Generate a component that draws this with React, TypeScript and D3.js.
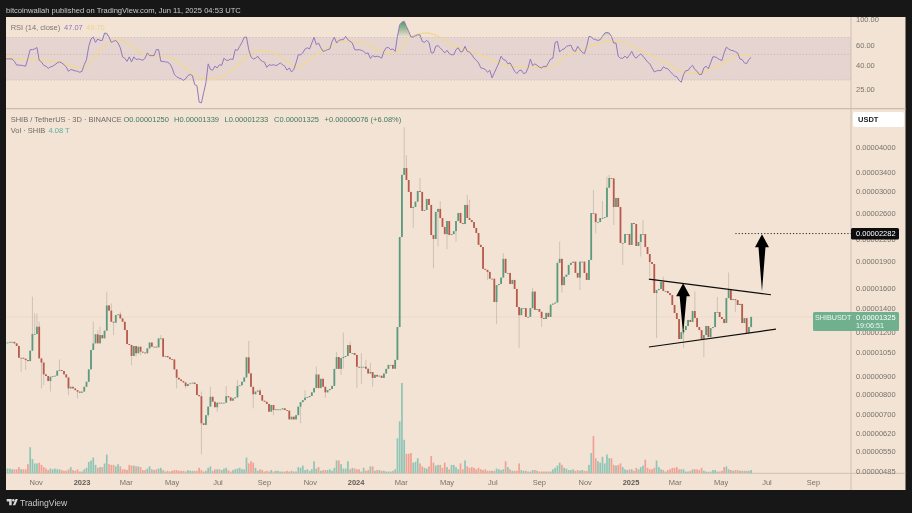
import React from 'react'
import * as d3 from 'd3'

// prices are in units of 0.00000001 USDT, volume in trillions of SHIB
const closes = [
  1121, 1121, 1126, 1126, 1115, 1096, 1015, 1015, 1009, 1000, 993, 1063, 1185, 1185, 1243, 1011, 984, 911, 901, 872,
  897, 901, 903, 933, 937, 931, 911, 893, 831, 840, 831, 822, 814, 808, 814, 840, 868, 941, 1068, 1115,
  1183, 1115, 1177, 1152, 1211, 1428, 1380, 1284, 1276, 1341, 1347, 1312, 1284, 1216, 1110, 1103, 1027, 1096, 1045, 1091,
  1056, 1050, 1045, 1079, 1121, 1091, 1091, 1087, 1152, 1152, 1022, 1027, 1018, 1006, 1004, 941, 891, 881, 872, 864,
  844, 855, 859, 863, 855, 796, 790, 662, 655, 698, 738, 787, 762, 735, 757, 754, 757, 757, 790, 784,
  767, 779, 784, 844, 848, 868, 893, 1018, 917, 840, 800, 814, 820, 796, 767, 762, 751, 714, 746, 722,
  725, 725, 725, 730, 722, 719, 679, 691, 679, 698, 738,
  760, 770, 783, 785, 791, 810, 833, 910, 833, 885, 840, 810, 822, 828, 845, 944, 1020, 944, 1013, 1020,
  1027, 1103, 1047, 1047, 1034, 957, 953, 957, 957, 945, 916, 925, 890, 908, 898, 903, 890, 916, 944, 969,
  969, 945, 1001, 1240,
  2231, 3346, 3500, 3236, 2994, 2696, 2714, 2810, 3012, 2994, 2645, 2661, 2860, 2750, 2260, 2203, 2628, 2680, 2525, 2383,
  2273, 2477, 2260, 2273, 2318, 2477, 2610, 2444, 2428, 2750, 2525, 2493, 2460, 2367, 2290, 2120, 2090, 1812, 1800, 1777,
  1700, 1700, 1460, 1630, 1642, 1712, 1935, 1765, 1765, 1642, 1686, 1590, 1413, 1340, 1403, 1403, 1325, 1325, 1403, 1563,
  1387, 1395, 1370, 1315, 1307, 1360, 1325, 1435, 1445, 1455, 1885, 1935, 1630, 1722, 1745, 1860, 1885, 1900, 1765, 1712,
  1900, 1900, 1765, 1686, 1921, 2609, 2600, 2460, 2460, 2525, 2525, 2540, 3077, 3278, 3270, 2713, 2878, 2713, 2146, 2146,
  2275, 2275, 2118, 2444, 2429, 2104, 2160, 2275, 2275, 2090, 1997, 1895, 1871, 1548,
  1579, 1590, 1664, 1569, 1569, 1548, 1528, 1432, 1359, 1307, 1147, 1200, 1216, 1249, 1299, 1282, 1377, 1315, 1240, 1216,
  1147, 1177, 1249, 1162, 1232, 1240, 1368, 1368, 1324, 1307, 1273, 1498, 1579, 1479, 1488, 1479, 1432, 1442, 1273, 1315,
  1192, 1240, 1325,
]

// only the wicks that stand clear of the bodies: [candle, price]
const highWicks = [
  [12, 1512], [13, 1356], [14, 1356], [15, 1284], [24, 1004], [39, 1284], [41, 1216], [42, 1243], [45, 1562], [47, 1447],
  [51, 1371], [69, 1177], [87, 814], [91, 840], [98, 844], [103, 878], [108, 1133], [113, 831], [133, 822], [138, 959],
  [147, 1054], [150, 1197], [153, 1128], [158, 1047], [160, 1001], [162, 982], [175, 1461], [177, 4560], [178, 3807],
  [184, 3280], [193, 2820], [205, 2938], [206, 2842], [221, 2010], [234, 1600], [246, 2165], [261, 3032], [265, 2820],
  [267, 3307], [268, 3346], [283, 2493], [292, 1723], [306, 1565], [316, 1510], [321, 1770],
]
const lowWicks = [
  [7, 927], [9, 937], [16, 831], [17, 850], [20, 814], [28, 796], [32, 779], [48, 1177], [56, 967], [58, 1022], [60, 1033],
  [76, 831], [80, 831], [87, 541], [90, 691], [94, 714], [110, 730], [119, 698], [131, 662], [142, 783], [149, 908],
  [150, 945], [156, 833], [158, 856], [163, 840], [181, 2370], [190, 1820], [192, 2098], [196, 2060], [200, 2165],
  [214, 1686], [218, 1265], [228, 1082], [238, 1242], [247, 1551], [255, 1580], [262, 2285], [270, 2412], [274, 1860],
  [282, 1965], [286, 1723], [289, 1155], [301, 1082], [310, 1020], [324, 1370], [329, 1197],
]

const volumes = [
  6, 6, 6, 5, 5, 5, 8, 5, 5, 5, 12, 35, 19, 13, 13, 14, 11, 8, 6, 4,
  6, 5, 6, 5, 5, 4, 3, 3, 5, 8, 4, 3, 5, 2, 2, 5, 7, 15, 17, 21,
  11, 7, 8, 8, 13, 25, 12, 11, 11, 9, 12, 9, 5, 5, 4, 11, 10, 10, 9, 9,
  8, 4, 4, 6, 9, 5, 4, 5, 6, 7, 4, 2, 3, 2, 3, 4, 4, 3, 3, 3,
  2, 4, 3, 3, 3, 3, 7, 4, 2, 3, 7, 9, 3, 5, 5, 5, 4, 6, 7, 4,
  2, 4, 5, 6, 7, 5, 5, 21, 13, 16, 14, 7, 3, 5, 4, 2, 3, 2, 4, 2,
  3, 3, 2, 2, 2, 3, 2, 3, 2, 2, 8, 7, 10, 4, 5, 3, 5, 16, 6, 8,
  3, 4, 4, 4, 5, 3, 7, 17, 17, 12, 6, 6, 16, 5, 7, 6, 5, 5, 2, 7,
  3, 4, 9, 9, 3, 4, 4, 3, 3, 2, 2, 2, 3, 5, 47, 70, 122, 45, 26, 26,
  27, 14, 15, 20, 13, 9, 7, 6, 9, 23, 14, 10, 11, 11, 7, 14, 8, 5, 11, 11,
  8, 5, 13, 5, 17, 9, 7, 8, 7, 5, 7, 5, 4, 5, 3, 3, 3, 3, 6, 5,
  4, 5, 16, 8, 5, 3, 3, 3, 13, 4, 3, 3, 2, 2, 4, 4, 3, 2, 2, 2,
  2, 2, 2, 5, 7, 10, 14, 11, 7, 6, 4, 4, 5, 3, 4, 3, 4, 3, 3, 11,
  27, 50, 20, 16, 14, 22, 13, 25, 20, 20, 11, 10, 11, 13, 8, 5, 4, 5, 5, 3,
  7, 5, 8, 10, 18, 7, 5, 5, 7, 17, 8, 5, 4, 2, 4, 5, 7, 7, 8, 5,
  5, 5, 2, 2, 3, 5, 5, 5, 4, 7, 3, 2, 1.5, 2, 4, 4, 2, 2, 3, 8,
  9, 5, 4, 3, 4, 4, 3, 3, 3, 3, 3, 4.08,
]

const rsi = [
  45.6, 45.7, 45.7, 45.6, 43.5, 40.4, 40.4, 40.2, 39.9, 39.5, 46.3, 55, 55, 55.7, 57.4, 44.5, 43, 40.2, 39.5, 37.8,
  39, 39.5, 40.7, 42.2, 43, 42.2, 40.7, 39, 35.7, 37, 36.5, 36, 35.7, 35, 35.7, 40.7, 45.1, 58.7, 67.9, 70.7,
  63.5, 67.9, 66, 66, 76.4, 76, 70.7, 63.5, 64.8, 66, 62.7, 57, 47.6, 46.3, 43.5, 47.6, 43, 47.6, 45.1, 45.6,
  45.1, 44.5, 46.3, 51.5, 48.8, 48.8, 48.8, 55, 55, 43.5, 43.5, 43, 42.8, 41.5, 38.2, 33.5, 32, 31.3, 30.7, 29.8,
  30.7, 32.8, 33.5, 32.8, 27.4, 26.8, 19.3, 19, 23.3, 28.4, 41.4, 37, 36.5, 39.5, 38.2, 40.7, 40.2, 46.3, 44.5, 44.5,
  45.6, 45.1, 55, 54.2, 58.7, 63.5, 70.3, 70.7, 55, 47.6, 45.6, 46.3, 48.2, 45.1, 43.5, 42.8, 38.6, 40.7, 40.2, 40.7,
  40, 40.7, 42.2, 40.7, 39.5, 36.5, 38.2, 35.2, 37, 42.2, 49.6,
  49.6, 51.5, 55.7, 57, 55.7, 62.7, 70.3, 60.6, 62.7, 57, 53.1, 53.8, 55, 55.7, 64.8, 70.3, 62.7, 66, 67, 67,
  71.6, 67, 64.8, 62.7, 55, 54.6, 55, 54.2, 53.1, 50.8, 51.5, 46, 48.8, 47.6, 48.2, 47.6, 46.3, 53.1, 57, 57.4,
  55, 55.7, 53.1, 71.6, 90, 95, 96.6, 87, 79, 70.7, 70.7, 72.5, 73.8, 73.8, 64.8, 63.5, 66, 63.5, 51.5, 51.5,
  58.7, 59.5, 57, 54.2, 51.5, 54.2, 50.8, 49.6, 49.6, 55, 57, 52.4, 53.1, 58.7, 53.1, 52.4, 49.6, 46.3, 44.5, 42.2,
  38.2, 37.8, 37, 35, 36.5, 31.3, 34.6, 38.2, 42.2, 48.2, 45.1, 44.5, 41.5, 42.2, 39, 35.7, 34.1, 36.2, 36.5, 34.1,
  34.6, 38.2, 45.6, 40, 41.4, 40.2, 38.7, 38.2, 39.5, 39, 42.2, 45.6, 46.3, 63.5, 64.8, 52.4, 55, 55.7, 58.7, 59.5,
  60.1, 54.2, 53.1, 58.7, 55, 52.1, 50.8, 58.7, 71.6, 70.7, 67.9, 67, 66, 67, 71.6, 76.4,
  77.4, 76.4, 71.6, 62.7, 62.7, 48.2, 46.3, 46.3, 48.2, 46.3, 49.6, 53.1, 48.2, 46.3, 48.8, 50.4, 48.2, 45.6, 43, 41.5,
  38.2, 35.2, 36, 36.2, 36.2, 39, 37.9, 37.5, 35.7, 33.9, 32.5, 32, 29.8, 28.7, 33.5, 36.2, 36.2, 38.7, 40.2, 37,
  35.7, 33.5, 33.5, 38.2, 39.5, 37.5, 42.2, 47.6, 47.6, 46.3, 45.1, 44.2, 51.5, 57.8, 55.7, 54.2, 53.8, 52.7, 51.5, 45.6,
  45.1, 42.2, 41.6, 45.1, 47.07,
]

// RSI average, read at these candles
const rsiMaCandles = [
  0, 6, 12, 16, 24, 33, 39, 43, 47, 50, 56, 62, 68, 74, 80, 86, 92, 98, 104, 108, 113, 119, 125, 130, 132, 138, 144,
  151, 159, 165, 169, 174, 180, 187, 192, 198, 204, 211, 219, 225, 231, 237, 241, 249, 256, 262, 268, 277, 286, 295,
  301, 308, 316, 322, 326, 331,
]
const rsiMaValues = [
  48.8, 45.6, 45.1, 44.5, 43, 38.2, 45.1, 57, 64.8, 67, 58.7, 49.6, 48.2, 46.3, 38.2, 31.3, 30.3, 33.5, 42.2, 49.6, 54.2,
  51.5, 43.5, 38.2, 40.7, 49.6, 58.7, 64.8, 62.7, 55, 50.8, 53.1, 70.7, 76.4, 71.6, 60.6, 55, 49.6, 42.2, 39.5, 39,
  38.7, 38.2, 48.2, 55, 60.6, 66, 60.6, 49.6, 40.7, 35, 34.6, 39.5, 45.6, 49.6, 49.7,
]

const priceTicks = [4000, 3400, 3000, 2600, 2200, 1900, 1600, 1400, 1200, 1050, 900, 800, 700, 620, 550, 485]
const rsiTicks = [100, 60, 40, 25]
const rsiBands = [70, 50, 30]
const monthTicks = [
  ['Nov', '2022-11-01'], ['Mar', '2023-03-01'], ['May', '2023-05-01'], ['Jul', '2023-07-01'], ['Sep', '2023-09-01'],
  ['Nov', '2023-11-01'], ['Mar', '2024-03-01'], ['May', '2024-05-01'], ['Jul', '2024-07-01'], ['Sep', '2024-09-01'],
  ['Nov', '2024-11-01'], ['Mar', '2025-03-01'], ['May', '2025-05-01'], ['Jul', '2025-07-01'], ['Sep', '2025-09-01'],
]
const yearTicks = [['2023', '2023-01-01'], ['2024', '2024-01-01'], ['2025', '2025-01-01']]

const firstCandle = new Date('2022-09-21').getTime()
const dayMs = 86400000
const candleDate = (i: number) => new Date(firstCandle + i * 3 * dayMs)

// drawn trend lines and arrows, [candle, price]
const upperTrend = [[285.6, 1696], [339.8, 1531]]
const lowerTrend = [[285.6, 1089], [342, 1223]]
const arrowOne = { tip: [300.8, 1650], tail: [300.8, 1180] }
const arrowTwo = { tip: [335.8, 2270], tail: [335.8, 1564] }
const targetPrice = 2282
const targetFrom = 324
const lastPrice = 1325

const x = d3.scaleTime().domain([new Date('2023-01-01'), new Date('2025-01-01')]).range([82, 631])
const yPrice = d3.scaleLog().domain([485, 4000]).range([471, 147.5])
const yRsi = d3.scaleLog().domain([30, 70]).range([80, 37.5])
const yVol = d3.scaleLinear().domain([0, 122]).range([473, 383])

const fmtPrice = (v: number) => (v * 1e-8).toFixed(8)
const xi = (i: number) => x(candleDate(i))

const BG = '#f3e3d4'
const GRID = '#cbbcae'
const AXIS_TEXT = '#77726c'
const GREEN = '#5c9a7e'
const RED = '#b85a4b'
const FONT = '"Liberation Sans", Arial, sans-serif'
const FS = 7.5

function arrowPath(a: { tip: number[]; tail: number[] }, head: number) {
  const tx = xi(a.tip[0])
  const ty = yPrice(a.tip[1])
  const by = yPrice(a.tail[1])
  return `M${tx},${ty}L${tx + 7},${ty + head}L${tx + 3.5},${ty + head}L${tx},${by}L${tx - 3.5},${ty + head}L${tx - 7},${ty + head}Z`
}

export default function App() {
  const rsiLine = d3.line<number>().x((_, i) => xi(i)).y(d => yRsi(d))
  const rsiArea = d3.area<number>().x((_, i) => xi(i)).y0(yRsi(70)).y1(d => yRsi(d))
  const maLine = d3.line<number>()
    .x((_, i) => xi(rsiMaCandles[i]))
    .y(d => yRsi(d))
    .curve(d3.curveMonotoneX)

  const highOf = new Map(highWicks.map(d => [d[0], d[1]]))
  const lowOf = new Map(lowWicks.map(d => [d[0], d[1]]))

  const candles = closes.map((close, i) => {
    const open = i === 0 ? close : closes[i - 1]
    const top = Math.max(open, close)
    const bottom = Math.min(open, close)
    return {
      i,
      open,
      close,
      top,
      bottom,
      high: Math.max(highOf.get(i) ?? top, top),
      low: Math.min(lowOf.get(i) ?? bottom, bottom),
    }
  })

  const lastY = yPrice(lastPrice)
  const targetY = yPrice(targetPrice)

  return (
    <svg width={912} height={513} style={{ position: 'absolute', left: 0, top: 0, display: 'block' }} fontFamily={FONT}>
      <defs>
        <clipPath id="plot"><rect x={6} y={17} width={845} height={456} /></clipPath>
        <clipPath id="above70"><rect x={6} y={17} width={845} height={yRsi(70) - 17} /></clipPath>
        <linearGradient id="overbought" gradientUnits="userSpaceOnUse" x1="0" y1={yRsi(100)} x2="0" y2={yRsi(70)}>
          <stop offset="0" stopColor="#3f8f58" stopOpacity={1} />
          <stop offset="1" stopColor="#3f8f58" stopOpacity={0} />
        </linearGradient>
        <filter id="soft" filterUnits="userSpaceOnUse" x={0} y={0} width={912} height={513}>
          <feGaussianBlur stdDeviation={0.35} />
        </filter>
      </defs>

      <rect width={912} height={513} fill="#171717" />
      <g filter="url(#soft)">
        <rect x={6} y={17} width={899.5} height={473} fill={BG} />

        <text x={6} y={12.8} fontSize={7.6} fill="#c9c9c9">bitcoinwallah published on TradingView.com, Jun 11, 2025 04:53 UTC</text>

        {/* RSI pane */}
        <rect x={6} y={yRsi(70)} width={845} height={yRsi(30) - yRsi(70)} fill="#e6d4d1" />
        {rsiBands.map(b => (
          <line key={b} x1={6} x2={851} y1={yRsi(b)} y2={yRsi(b)} stroke="#c7b2ad" strokeWidth={0.8} strokeDasharray="1.2 2" />
        ))}
        <path d={rsiArea(rsi) ?? ''} fill="url(#overbought)" clipPath="url(#above70)" />
        <path d={maLine(rsiMaValues) ?? ''} fill="none" stroke="#efd898" strokeWidth={1.5} clipPath="url(#plot)" />
        <path d={rsiLine(rsi) ?? ''} fill="none" stroke="#9079bd" strokeWidth={1} clipPath="url(#plot)" />

        <text x={10.7} y={30} fontSize={FS} fill="#7b7671">RSI (14, close)</text>
        <text x={64} y={30} fontSize={FS} fill="#8d76bb">47.07</text>
        <text x={86} y={30} fontSize={FS} fill="#ecd48e">49.70</text>

        {/* dividers */}
        <line x1={6} x2={905.5} y1={108.7} y2={108.7} stroke={GRID} strokeWidth={1.2} />
        <line x1={851} x2={851} y1={17} y2={490} stroke={GRID} strokeWidth={0.9} />
        <line x1={6} x2={905.5} y1={473.3} y2={473.3} stroke={GRID} strokeWidth={0.9} />
        <line x1={6} x2={851} y1={lastY} y2={lastY} stroke="#e9d7c6" strokeWidth={0.7} />

        {/* volume */}
        <g clipPath="url(#plot)">
          {volumes.map((v, i) => (
            <rect
              key={i}
              x={xi(i) - 0.85}
              y={yVol(v)}
              width={1.7}
              height={yVol(0) - yVol(v)}
              fill={candles[i] && candles[i].close >= candles[i].open ? '#8fc5b6' : '#efa194'}
            />
          ))}
        </g>

        {/* candles */}
        <g clipPath="url(#plot)">
          {candles.map(c => {
            const up = c.close >= c.open
            const bodyTop = yPrice(c.top)
            const bodyH = Math.max(yPrice(c.bottom) - bodyTop, 0.8)
            return (
              <g key={c.i}>
                <line x1={xi(c.i)} x2={xi(c.i)} y1={yPrice(c.high)} y2={yPrice(c.low)} stroke="#bdb4a9" strokeWidth={0.7} />
                <rect x={xi(c.i) - 0.9} y={bodyTop} width={1.8} height={bodyH} fill={up ? GREEN : RED} />
              </g>
            )
          })}
        </g>

        {/* trend lines, arrows, target */}
        {[upperTrend, lowerTrend].map((t, k) => (
          <line key={k} x1={xi(t[0][0])} y1={yPrice(t[0][1])} x2={xi(t[1][0])} y2={yPrice(t[1][1])} stroke="#0d0d0d" strokeWidth={1.2} />
        ))}
        <path d={arrowPath(arrowOne, 13)} fill="#050505" />
        <path d={arrowPath(arrowTwo, 13)} fill="#050505" />
        <line x1={xi(targetFrom)} x2={851} y1={targetY} y2={targetY} stroke="#2a2a2a" strokeWidth={1} strokeDasharray="1.2 2" />

        <text x={10.7} y={122} fontSize={FS} fill="#6f6a65">SHIB / TetherUS · 3D · BINANCE</text>
        <text x={123.5} y={122} fontSize={FS} fill="#3f7a5e">O0.00001250</text>
        <text x={174} y={122} fontSize={FS} fill="#3f7a5e">H0.00001339</text>
        <text x={224.5} y={122} fontSize={FS} fill="#3f7a5e">L0.00001233</text>
        <text x={274} y={122} fontSize={FS} fill="#3f7a5e">C0.00001325</text>
        <text x={324.5} y={122} fontSize={FS} fill="#3f7a5e">+0.00000076 (+6.08%)</text>
        <text x={10.7} y={133} fontSize={FS} fill="#6f6a65">Vol · SHIB</text>
        <text x={48.5} y={133} fontSize={FS} fill="#5aaf9f">4.08 T</text>

        {/* axes */}
        {rsiTicks.map(t => (
          <text key={t} x={856} y={Math.max(yRsi(t) + 2.7, 22)} fontSize={FS} fill={AXIS_TEXT}>{t.toFixed(2)}</text>
        ))}
        {priceTicks.map(t => (
          <text key={t} x={856} y={yPrice(t) + 2.7} fontSize={FS} fill={AXIS_TEXT}>{fmtPrice(t)}</text>
        ))}
        {monthTicks.map(([label, date]) => (
          <text key={date} x={x(new Date(date))} y={484.5} fontSize={FS} fill={AXIS_TEXT} textAnchor="middle">{label}</text>
        ))}
        {yearTicks.map(([label, date]) => (
          <text key={date} x={x(new Date(date))} y={484.5} fontSize={FS} fontWeight={700} fill="#5f5a55" textAnchor="middle">{label}</text>
        ))}

        <rect x={853} y={112} width={51} height={15} rx={2} fill="#ffffff" />
        <text x={858} y={122.3} fontSize={FS} fontWeight={700} fill="#222222">USDT</text>

        <rect x={851} y={targetY - 5.6} width={48} height={11.6} rx={1.5} fill="#0b0b0b" />
        <text x={856} y={targetY + 2.8} fontSize={FS} fill="#ffffff">{fmtPrice(targetPrice)}</text>

        <rect x={813} y={312} width={86} height={19} rx={1.5} fill="#6fb08e" />
        <text x={815} y={319.8} fontSize={7.2} fill="#eef6ef">SHIBUSDT</text>
        <text x={856} y={319.8} fontSize={FS} fill="#ffffff">{fmtPrice(lastPrice)}</text>
        <text x={856} y={328.2} fontSize={7.2} fill="#eef6ef">19:06:51</text>

        {/* footer */}
        <path d="M6.7 499h5v6.2h-2.5v-3.6h-2.5z" fill="#d8d8d8" />
        <circle cx={13.3} cy={500.2} r={1.2} fill="#d8d8d8" />
        <path d="M15.6 499h2.3l-2.7 6.2h-2.4z" fill="#d8d8d8" />
        <text x={20} y={505.5} fontSize={8.6} fill="#c8c8c8">TradingView</text>
      </g>
    </svg>
  )
}
